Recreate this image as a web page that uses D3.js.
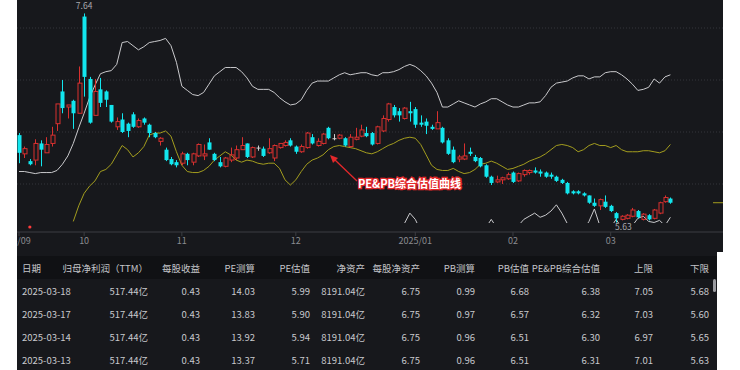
<!DOCTYPE html>
<html lang="zh">
<head>
<meta charset="utf-8">
<title>PE&amp;PB综合估值</title>
<script src="https://d3js.org/d3.v7.min.js"></script>
<style>
  body { margin: 0; background: #fff; }
  text { font-family: "Noto Sans CJK SC", "Noto Sans", sans-serif; }
</style>
</head>
<body>
<script>
// daily candles, 2024-09-11 .. 2025-03-18 (trading days)
var opens = [6.47,6.29,6.22,6.23,6.39,6.30,6.39,6.58,6.89,6.74,
  6.80,6.68,7.61,7.01,6.66,6.91,6.89,6.76,6.55,6.62,
  6.58,6.67,6.55,6.63,6.57,6.49,6.41,6.33,6.24,6.21,
  6.20,6.29,6.21,6.27,6.27,6.40,6.29,6.21,6.17,6.23,
  6.25,6.33,6.39,6.26,6.35,6.34,6.30,6.25,6.35,6.37,
  6.42,6.36,6.31,6.35,6.45,6.37,6.39,6.54,6.44,6.44,
  6.44,6.36,6.43,6.46,6.49,6.49,6.39,6.51,6.62,6.74,
  6.70,6.63,6.70,6.72,6.59,6.60,6.55,6.53,6.54,6.42,
  6.33,6.24,6.24,6.31,6.26,6.25,6.18,6.07,6.02,6.04,
  6.05,6.11,6.03,6.09,6.11,6.13,6.12,6.11,6.09,6.07,
  6.04,6.01,5.93,5.93,5.91,5.89,5.82,5.79,5.83,5.79,
  5.72,5.66,5.67,5.69,5.74,5.66,5.70,5.67,5.72,5.83,5.86];
var highs = [6.49,6.36,6.24,6.43,6.42,6.45,6.55,6.77,7.00,6.76,
  6.81,7.13,7.64,7.03,7.01,7.02,6.90,6.76,6.64,6.68,
  6.59,6.69,6.63,6.64,6.58,6.50,6.45,6.35,6.26,6.23,
  6.31,6.30,6.30,6.39,6.38,6.44,6.30,6.26,6.26,6.35,
  6.37,6.45,6.39,6.36,6.37,6.36,6.44,6.38,6.39,6.42,
  6.44,6.37,6.38,6.50,6.48,6.44,6.49,6.55,6.48,6.48,
  6.45,6.48,6.54,6.57,6.55,6.50,6.56,6.66,6.78,6.76,
  6.73,6.74,6.79,6.74,6.66,6.63,6.57,6.70,6.55,6.44,
  6.36,6.28,6.39,6.35,6.28,6.26,6.19,6.08,6.08,6.07,
  6.11,6.12,6.11,6.14,6.14,6.16,6.14,6.12,6.11,6.08,
  6.05,6.02,5.94,5.94,5.92,5.89,5.86,5.86,5.89,5.80,
  5.73,5.70,5.71,5.77,5.75,5.72,5.71,5.76,5.83,5.89,5.87];
var lows = [6.20,6.25,6.18,6.18,6.17,6.30,6.36,6.51,6.68,6.63,
  6.53,6.68,6.84,6.58,6.66,6.74,6.74,6.59,6.52,6.49,
  6.45,6.54,6.54,6.57,6.45,6.44,6.37,6.22,6.18,6.16,
  6.18,6.18,6.18,6.26,6.23,6.33,6.22,6.16,6.16,6.21,
  6.23,6.33,6.25,6.25,6.32,6.26,6.29,6.22,6.34,6.36,
  6.36,6.29,6.30,6.34,6.38,6.36,6.38,6.43,6.42,6.43,
  6.36,6.35,6.42,6.45,6.45,6.37,6.38,6.50,6.60,6.64,
  6.60,6.62,6.60,6.54,6.55,6.48,6.52,6.53,6.39,6.28,
  6.20,6.21,6.23,6.27,6.21,6.16,6.06,5.99,6.01,6.00,
  6.04,6.01,6.02,6.07,6.09,6.10,6.07,6.06,6.05,6.02,
  6.00,5.90,5.90,5.90,5.88,5.81,5.78,5.75,5.77,5.73,
  5.63,5.65,5.66,5.68,5.67,5.65,5.65,5.66,5.71,5.82,5.81];
var closes = [6.30,6.34,6.19,6.39,6.33,6.38,6.47,6.77,6.73,6.76,
  6.68,6.97,7.03,6.59,6.89,6.78,6.81,6.60,6.60,6.50,
  6.51,6.55,6.61,6.59,6.49,6.45,6.44,6.23,6.19,6.18,
  6.29,6.23,6.29,6.38,6.29,6.33,6.23,6.17,6.25,6.28,
  6.33,6.37,6.26,6.35,6.35,6.27,6.34,6.37,6.39,6.40,
  6.37,6.31,6.36,6.49,6.39,6.41,6.48,6.44,6.44,6.47,
  6.37,6.45,6.45,6.52,6.46,6.38,6.55,6.63,6.77,6.66,
  6.66,6.73,6.68,6.57,6.57,6.56,6.53,6.59,6.40,6.29,
  6.21,6.26,6.27,6.29,6.22,6.17,6.07,6.01,6.04,6.06,
  6.09,6.02,6.10,6.13,6.13,6.11,6.10,6.07,6.07,6.03,
  6.01,5.91,5.91,5.91,5.89,5.82,5.79,5.85,5.78,5.74,
  5.67,5.69,5.70,5.75,5.68,5.71,5.66,5.75,5.82,5.87,5.82];

// valuation band: upper limit, PE&PB composite, lower limit
var upper = [6.12,6.12,6.11,6.10,6.11,6.11,6.11,6.13,6.19,6.27,
  6.39,6.54,6.68,6.83,6.95,7.06,7.08,7.09,7.15,7.36,
  7.37,7.33,7.29,7.32,7.36,7.37,7.38,7.40,7.33,7.17,
  6.94,6.90,6.86,6.85,6.88,6.96,7.04,7.08,7.12,7.12,
  7.12,7.08,7.02,6.94,6.91,6.91,6.91,6.88,6.83,6.79,
  6.76,6.77,6.81,6.90,6.97,6.99,6.99,6.99,7.02,7.05,
  7.07,7.05,7.06,7.07,7.07,7.05,7.04,7.07,7.07,7.08,
  7.10,7.13,7.15,7.13,7.09,7.04,6.97,6.88,6.74,6.74,
  6.77,6.80,6.78,6.76,6.74,6.77,6.79,6.82,6.82,6.79,
  6.76,6.74,6.74,6.76,6.78,6.78,6.79,6.85,6.93,6.97,
  6.98,6.99,7.02,7.04,7.04,7.01,7.03,7.03,7.07,7.08,
  7.08,7.05,7.01,6.96,6.90,6.91,6.93,7.01,6.97,7.03,7.05];
var composite = [null,null,null,null,null,null,null,null,null,null,
  5.64,5.79,5.91,5.98,6.03,6.12,6.14,6.19,6.28,6.37,
  6.33,6.26,6.30,6.36,6.47,6.49,6.49,6.51,6.46,6.31,
  6.18,6.12,6.11,6.11,6.13,6.17,6.23,6.27,6.31,6.28,
  6.23,6.21,6.23,6.22,6.20,6.19,6.20,6.20,6.15,6.04,
  5.99,6.04,6.12,6.19,6.23,6.25,6.28,6.33,6.36,6.37,
  6.36,6.35,6.34,6.32,6.30,6.29,6.31,6.34,6.37,6.39,
  6.42,6.44,6.45,6.44,6.38,6.28,6.18,6.14,6.13,6.13,
  6.15,6.12,6.10,6.11,6.14,6.19,6.20,6.22,6.20,6.17,
  6.14,6.15,6.17,6.19,6.22,6.24,6.26,6.29,6.33,6.37,
  6.38,6.37,6.35,6.31,6.33,6.37,6.39,6.37,6.37,6.35,
  6.37,6.33,6.31,6.31,6.31,6.32,6.32,6.31,6.30,6.32,6.38];
var lower = [null,null,null,null,null,null,null,null,null,null,
  4.90,5.04,5.14,5.13,5.11,5.18,5.20,5.29,5.40,5.38,
  5.29,5.19,5.31,5.40,5.50,5.54,5.54,5.56,5.55,5.45,
  5.42,5.34,5.36,5.37,5.38,5.38,5.42,5.46,5.50,5.44,
  5.34,5.34,5.44,5.50,5.49,5.47,5.49,5.52,5.47,5.29,
  5.22,5.31,5.43,5.48,5.49,5.51,5.57,5.59,5.58,5.55,
  5.52,5.55,5.52,5.47,5.43,5.53,5.58,5.55,5.54,5.58,
  5.60,5.62,5.72,5.66,5.55,5.52,5.39,5.40,5.52,5.52,
  5.53,5.44,5.42,5.46,5.54,5.51,5.58,5.66,5.58,5.55,
  5.52,5.56,5.60,5.66,5.69,5.72,5.68,5.70,5.74,5.80,
  5.72,5.62,5.56,5.55,5.56,5.64,5.76,5.60,5.57,5.58,
  5.66,5.58,5.55,5.60,5.67,5.69,5.64,5.63,5.65,5.60,5.68];

// month ticks (index of first trading day)
var tickIdx = [0, 12, 30, 51, 73, 91, 109];
var tickLabels = ["24/09", "10", "11", "12", "2025/01", "02", "03"];
var gridValues = [6.0, 6.5, 7.0, 7.5];

// table
var headers = ["日期", "归母净利润（TTM）", "每股收益", "PE测算", "PE估值", "净资产", "每股净资产", "PB测算", "PB估值", "PE&PB综合估值", "上限", "下限"];
var rowDates = ["2025-03-18", "2025-03-17", "2025-03-14", "2025-03-13"];
var netProfit = ["517.44亿", "517.44亿", "517.44亿", "517.44亿"];
var eps = ["0.43", "0.43", "0.43", "0.43"];
var peCalc = ["14.03", "13.83", "13.92", "13.37"];
var peValue = ["5.99", "5.90", "5.94", "5.71"];
var netAssets = ["8191.04亿", "8191.04亿", "8191.04亿", "8191.04亿"];
var bps = ["6.75", "6.75", "6.75", "6.75"];
var pbCalc = ["0.99", "0.97", "0.96", "0.96"];
var pbValue = ["6.68", "6.57", "6.51", "6.51"];
var combined = ["6.38", "6.32", "6.30", "6.31"];
var upLimit = ["7.05", "7.03", "6.97", "7.01"];
var lowLimit = ["5.68", "5.60", "5.65", "5.63"];

var W = 740, H = 370;
var left = 17, right = 723;

var svg = d3.select("body").append("svg")
  .attr("width", W)
  .attr("height", H);

// backgrounds
svg.append("rect").attr("x", left).attr("y", 0).attr("width", right - left).attr("height", 252).attr("fill", "#17181c");
svg.append("rect").attr("x", left).attr("y", 252).attr("width", 717 - left).attr("height", H - 252).attr("fill", "#17181c");
svg.append("rect").attr("x", left).attr("y", 256).attr("width", 717 - left).attr("height", 23).attr("fill", "#101114");

var x = d3.scaleLinear().domain([0, closes.length - 1]).range([19, 670.4]);
var y = d3.scaleLinear().domain([6.0, 7.5]).range([184, 28]);

svg.append("defs").append("clipPath").attr("id", "plot")
  .append("rect").attr("x", left).attr("y", 0).attr("width", right - left).attr("height", 223);

// grid
svg.append("g").selectAll("line")
  .data(gridValues)
  .enter().append("line")
  .attr("x1", left).attr("x2", right)
  .attr("y1", d => y(d)).attr("y2", d => y(d))
  .attr("stroke", "#34353a")
  .attr("stroke-dasharray", "1,2");

// x axis
svg.append("line").attr("x1", left).attr("x2", right).attr("y1", 232).attr("y2", 232).attr("stroke", "#3c3d42");
var ticks = svg.append("g");
ticks.selectAll("line")
  .data(tickIdx)
  .enter().append("line")
  .attr("x1", d => x(d)).attr("x2", d => x(d))
  .attr("y1", 232).attr("y2", 236)
  .attr("stroke", "#3c3d42");
ticks.selectAll("text")
  .data(tickIdx)
  .enter().append("text")
  .attr("x", d => x(d))
  .attr("y", 244)
  .attr("text-anchor", "middle")
  .attr("font-size", "9px")
  .attr("fill", "#8a8b90")
  .text((d, i) => tickLabels[i]);

var plot = svg.append("g").attr("clip-path", "url(#plot)");

// band lines
var line = d3.line()
  .defined(d => d != null)
  .x((d, i) => x(i))
  .y(d => y(d));

plot.append("path").datum(upper).attr("d", line).attr("fill", "none").attr("stroke", "#c9c9cc").attr("stroke-width", 1);
plot.append("path").datum(lower).attr("d", line).attr("fill", "none").attr("stroke", "#c9c9cc").attr("stroke-width", 1);
plot.append("path").datum(composite).attr("d", line).attr("fill", "none").attr("stroke", "#a39d1e").attr("stroke-width", 1);

// candles
var red = "#d9302f", cyan = "#12e6ee", flat = "#cfcfcf";
var idx = d3.range(closes.length);
function col(i) {
  if (closes[i] > opens[i]) return red;
  if (closes[i] < opens[i]) return cyan;
  return flat;
}
var candles = plot.append("g").selectAll("g")
  .data(idx)
  .enter().append("g");

candles.append("line")
  .attr("x1", i => Math.round(x(i)) + 0.5).attr("x2", i => Math.round(x(i)) + 0.5)
  .attr("y1", i => y(highs[i]))
  .attr("y2", i => closes[i] > opens[i] ? y(closes[i]) : y(lows[i]))
  .attr("stroke", col);
candles.filter(i => closes[i] > opens[i]).append("line")
  .attr("x1", i => Math.round(x(i)) + 0.5).attr("x2", i => Math.round(x(i)) + 0.5)
  .attr("y1", i => y(opens[i]))
  .attr("y2", i => y(lows[i]))
  .attr("stroke", red);
candles.append("rect")
  .attr("x", i => closes[i] > opens[i] ? Math.round(x(i)) - 1.5 : Math.round(x(i)) - 1.5)
  .attr("y", i => y(Math.max(opens[i], closes[i])))
  .attr("width", i => closes[i] > opens[i] ? 4 : 4)
  .attr("height", i => Math.max(1, y(Math.min(opens[i], closes[i])) - y(Math.max(opens[i], closes[i]))))
  .attr("fill", i => closes[i] > opens[i] ? "none" : col(i))
  .attr("stroke", i => closes[i] > opens[i] ? red : "none")
  .attr("stroke-width", 1)
  .attr("transform", i => closes[i] > opens[i] ? "translate(0.5,0)" : null);

// max / min labels
var hi = d3.maxIndex(highs), lo = d3.minIndex(lows);
svg.append("text")
  .attr("x", x(hi)).attr("y", y(highs[hi]) - 4)
  .attr("text-anchor", "middle")
  .attr("font-size", "8.5px").attr("fill", "#a8a9ad")
  .text(highs[hi].toFixed(2));
svg.append("text")
  .attr("x", x(lo) - 1).attr("y", y(lows[lo]) + 8)
  .attr("font-size", "8.5px").attr("fill", "#a8a9ad")
  .text(lows[lo].toFixed(2));

// last price marker on the right
svg.append("line")
  .attr("x1", 713).attr("x2", right)
  .attr("y1", y(closes[closes.length - 1])).attr("y2", y(closes[closes.length - 1]))
  .attr("stroke", "#a39d1e");

// small red marker
svg.append("circle").attr("cx", x(2)).attr("cy", 227).attr("r", 1.6).attr("fill", "#ff3b3b");

// annotation
svg.append("line")
  .attr("x1", 357).attr("y1", 181).attr("x2", 334).attr("y2", 159)
  .attr("stroke", "#e3282b").attr("stroke-width", 1.3);
svg.append("path")
  .attr("d", "M330,155 L338,158 L333,163 Z")
  .attr("fill", "#e3282b");
svg.append("text")
  .attr("x", 358).attr("y", 188)
  .attr("font-size", "11px").attr("font-weight", "bold")
  .attr("fill", "#fff")
  .attr("stroke", "#e3282b").attr("stroke-width", 2.5)
  .attr("paint-order", "stroke")
  .text("PE&PB综合估值曲线");

// left white strip covers the overflowing first label
svg.append("rect").attr("x", 0).attr("y", 0).attr("width", left).attr("height", H).attr("fill", "#fff");

// table
var colRight = [148, 200, 255, 310, 365, 420, 475, 529, 600, 653, 709];
var cols = [netProfit, eps, peCalc, peValue, netAssets, bps, pbCalc, pbValue, combined, upLimit, lowLimit];
var table = svg.append("g").attr("font-size", "9.5px");
table.append("text").attr("x", 22).attr("y", 271.5).attr("fill", "#c4c5c9").text(headers[0]);
table.selectAll("text.h")
  .data(colRight)
  .enter().append("text")
  .attr("class", "h")
  .attr("x", d => d).attr("y", 271.5)
  .attr("text-anchor", "end")
  .attr("fill", "#c4c5c9")
  .text((d, i) => headers[i + 1]);

var rows = table.selectAll("g.row")
  .data(rowDates)
  .enter().append("g")
  .attr("class", "row")
  .attr("transform", (d, r) => "translate(0," + (295 + r * 23) + ")");
rows.append("text").attr("x", 22).attr("fill", "#c8c9cd").text(d => d);
rows.each(function(d, r) {
  d3.select(this).selectAll("text.v")
    .data(cols)
    .enter().append("text")
    .attr("class", "v")
    .attr("x", (c, i) => colRight[i])
    .attr("text-anchor", "end")
    .attr("fill", "#c8c9cd")
    .text(c => c[r]);
});

// scrollbar
svg.append("rect").attr("x", 713).attr("y", 279).attr("width", 3).attr("height", 13).attr("rx", 1.5).attr("fill", "#9a9ba0");
</script>
</body>
</html>
